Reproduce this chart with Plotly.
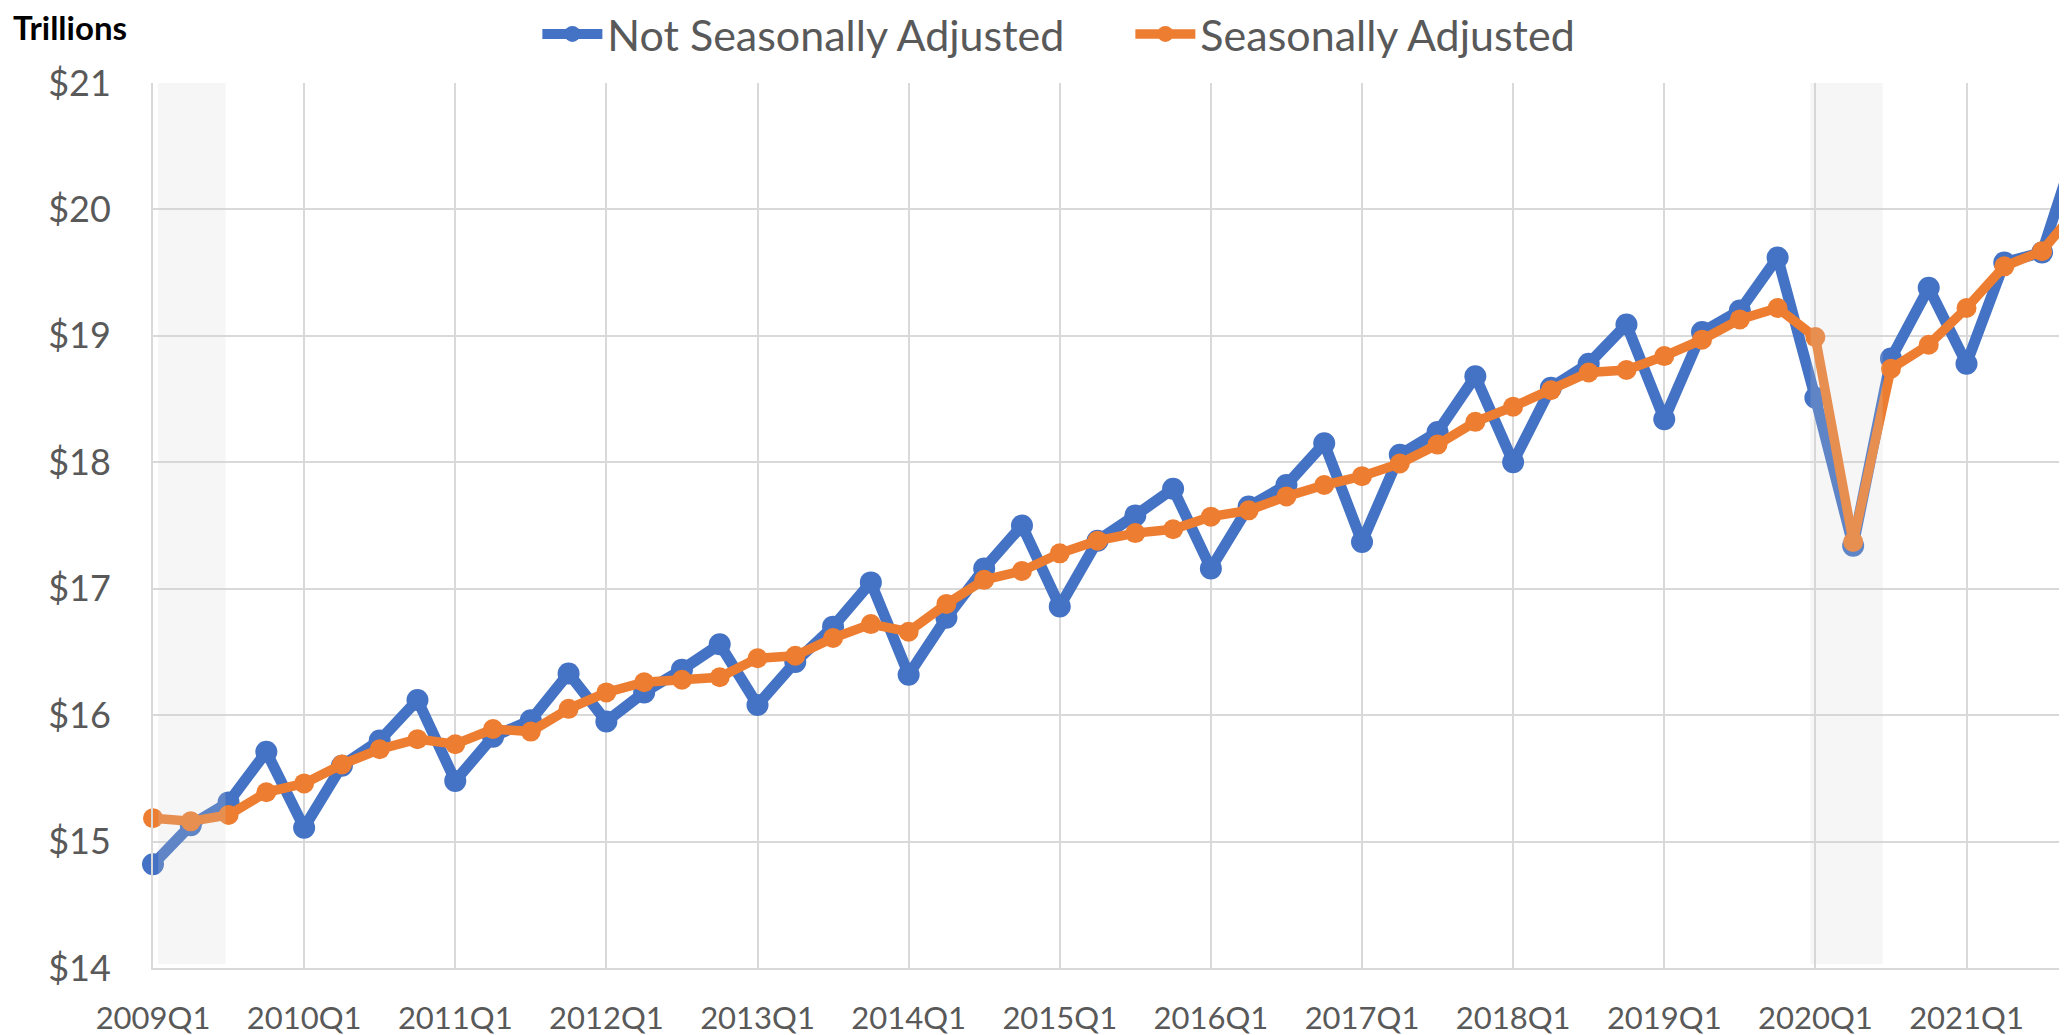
import plotly.graph_objects as go

# ---- data ----
quarters = [f"{y}Q{q}" for y in range(2009, 2022) for q in range(1, 5)]
not_seasonally_adjusted = [
    14.82, 15.13, 15.31, 15.71, 15.11, 15.60, 15.80, 16.12, 15.48,
    15.83, 15.96, 16.33, 15.95, 16.18, 16.36, 16.56, 16.08, 16.42,
    16.70, 17.05, 16.32, 16.77, 17.16, 17.50, 16.86, 17.38, 17.58,
    17.79, 17.16, 17.65, 17.82, 18.15, 17.37, 18.06, 18.24,
    18.68, 18.00, 18.59, 18.78, 19.09, 18.34, 19.03, 19.20, 19.62,
    18.51, 17.34, 18.82, 19.38, 18.78, 19.58, 19.66, 20.58,
]
seasonally_adjusted = [
    15.185, 15.16, 15.21, 15.39, 15.46, 15.61, 15.73, 15.81, 15.77,
    15.89, 15.87, 16.05, 16.18, 16.26, 16.28, 16.30, 16.45, 16.47,
    16.61, 16.72, 16.66, 16.88, 17.07, 17.14, 17.28, 17.38, 17.44,
    17.47, 17.57, 17.62, 17.73, 17.82, 17.89, 17.99, 18.14,
    18.32, 18.44, 18.57, 18.71, 18.73, 18.84, 18.97, 19.13, 19.22,
    18.99, 17.37, 18.74, 18.93, 19.22, 19.55, 19.67, 20.03,
]
recessions = [("2009Q1", "2009Q2"), ("2020Q1", "2020Q2")]
tick_labels = quarters[::4]
y_ticks = list(range(14, 22))
y_tick_text = [f"${v}" for v in y_ticks]

BLUE = "#4472C4"
ORANGE = "#ED7D31"
GRID = "#d9d9d9"
TXT = "#595959"
FONT = "Lato"

fig = go.Figure()
fig.add_trace(go.Scatter(
    x=quarters, y=not_seasonally_adjusted, name="Not Seasonally Adjusted",
    mode="lines+markers", line=dict(color=BLUE, width=11),
    marker=dict(color=BLUE, size=22), cliponaxis=False,
))
fig.add_trace(go.Scatter(
    x=quarters, y=seasonally_adjusted, name="Seasonally Adjusted",
    mode="lines+markers", line=dict(color=ORANGE, width=9.5),
    marker=dict(color=ORANGE, size=20), cliponaxis=False,
))

pads = [(0.14, 0.92), (-0.13, 0.78)]
for (a, b), (p0, p1) in zip(recessions, pads):
    fig.add_shape(type="rect", xref="x", yref="y",
                  x0=quarters.index(a) + p0, x1=quarters.index(b) + p1,
                  y0=14.03, y1=21, fillcolor="rgba(211,211,211,0.2)",
                  line=dict(width=0), layer="above")

fig.add_annotation(text="<b>Trillions</b>", xref="paper", yref="paper",
                   x=0, y=1, xanchor="left", yanchor="middle",
                   xshift=-142, yshift=56, showarrow=False,
                   font=dict(family=FONT, size=33, color="black"))

# the page body adds an 8px offset, so the figure is 8px smaller
fig.update_layout(
    width=2059, height=1027,
    margin=dict(l=145, r=0, t=75, b=67, autoexpand=False),
    plot_bgcolor="white", paper_bgcolor="white",
    font=dict(family=FONT, color=TXT),
    showlegend=True,
    legend=dict(orientation="h", xref="container", yref="container",
                x=0.2571, y=0.9747, xanchor="left", yanchor="middle",
                font=dict(family=FONT, size=43, color=TXT),
                itemwidth=60, entrywidth=518, entrywidthmode="pixels",
                bgcolor="rgba(0,0,0,0)"),
    xaxis=dict(type="category", range=[0, 50.66], tickmode="array",
               tickvals=tick_labels, ticktext=tick_labels, automargin=False,
               showgrid=True, gridcolor=GRID, gridwidth=2,
               showline=True, linecolor=GRID, linewidth=2,
               ticks="", ticklabelstandoff=22,
               tickfont=dict(family=FONT, size=31, color=TXT)),
    yaxis=dict(range=[14, 21], tickmode="array", tickvals=y_ticks,
               ticktext=y_tick_text, automargin=False,
               showgrid=True, gridcolor=GRID, gridwidth=2, zeroline=False,
               showline=True, linecolor=GRID, linewidth=2,
               ticks="", ticklabelstandoff=33,
               tickfont=dict(family=FONT, size=36, color=TXT)),
)

fig.write_html("out.html")
